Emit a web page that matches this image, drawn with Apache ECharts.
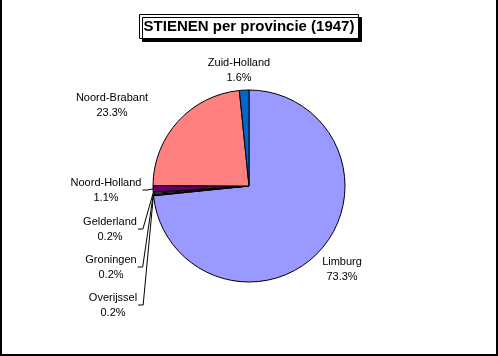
<!DOCTYPE html>
<html>
<head>
<meta charset="utf-8">
<script src="https://cdn.jsdelivr.net/npm/echarts@6/dist/echarts.min.js"></script>
<style>
html,body{margin:0;padding:0;background:#fff;}
#frame{position:absolute;left:0;top:0;width:498px;height:356px;box-sizing:border-box;border-left:2px solid #000;border-right:2px solid #000;border-bottom:2px solid #000;}
#chart{position:absolute;left:0;top:0;width:498px;height:356px;}
</style>
</head>
<body>
<div id="chart"></div>
<div id="frame"></div>
<script>
var titleText = 'STIENEN per provincie (1947)';
var provinces = ['Limburg', 'Overijssel', 'Groningen', 'Gelderland', 'Noord-Holland', 'Noord-Brabant', 'Zuid-Holland'];
var percentages = [73.3, 0.2, 0.2, 0.2, 1.1, 23.3, 1.6];
var sliceColors = ['#9999FF', '#993366', '#FFFFCC', '#CCFFFF', '#660066', '#FF8080', '#0066CC'];
var showLeader = [false, true, true, true, true, false, false];
// label centre positions (layout only)
var labelCentres = [[342, 269], [113, 305], [111, 267], [110, 229], [106, 190], [112, 105], [239, 70]];

var chart = echarts.init(document.getElementById('chart'), null, {renderer: 'canvas'});
var data = provinces.map(function (name, i) {
  return {
    name: name,
    value: percentages[i],
    itemStyle: {color: sliceColors[i]},
    labelLine: {show: showLeader[i]}
  };
});
chart.setOption({
  animation: false,
  title: {
    text: titleText,
    left: 'center',
    top: 14,
    padding: [5, 4, 5, 4],
    backgroundColor: '#fff',
    borderColor: '#000',
    borderWidth: 1,
    shadowColor: '#000',
    shadowOffsetX: 3,
    shadowOffsetY: 3,
    shadowBlur: 0,
    textStyle: {fontFamily: 'Liberation Sans, Arial, sans-serif', fontSize: 15, fontWeight: 'bold', color: '#000'}
  },
  series: [{
    type: 'pie',
    center: [249, 186],
    radius: 96,
    startAngle: 90,
    clockwise: true,
    avoidLabelOverlap: false,
    itemStyle: {borderColor: '#000', borderWidth: 1},
    label: {
      show: true,
      position: 'outside',
      formatter: '{b}\n{c}%',
      fontFamily: 'Liberation Sans, Arial, sans-serif',
      fontSize: 11,
      lineHeight: 15,
      color: '#000',
      align: 'center'
    },
    labelLine: {show: true, length: 4, length2: 4, lineStyle: {color: '#000', width: 1}},
    labelLayout: function (p) {
      var c = labelCentres[p.dataIndex];
      var res = {x: c[0], y: c[1], align: 'center', verticalAlign: 'middle'};
      if (showLeader[p.dataIndex] && p.labelLinePoints) {
        var anchor = p.labelLinePoints[0];
        var rx = c[0] + p.labelRect.width / 2 + 1;
        res.labelLinePoints = [anchor, [rx + 5, c[1]], [rx, c[1]]];
      }
      return res;
    },
    data: data
  }]
});
</script>
</body>
</html>
